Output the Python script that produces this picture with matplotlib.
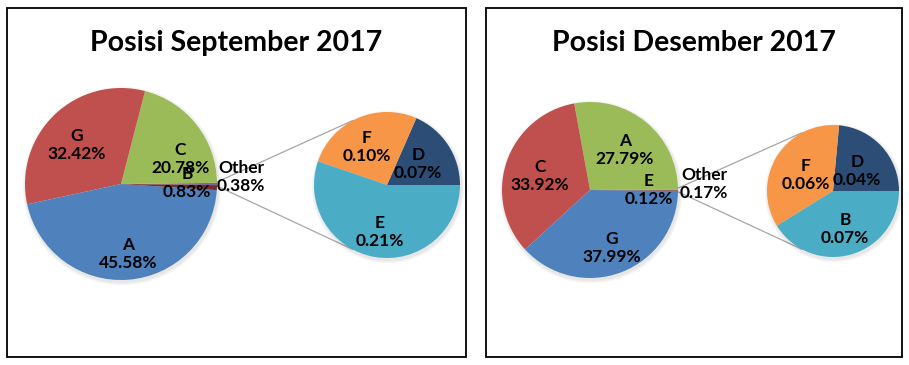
import matplotlib.pyplot as plt
from matplotlib.patches import Rectangle
import numpy as np

plt.rcParams['font.family'] = ['Lato', 'DejaVu Sans']

# data: main pie (the first slice is "Other", split out in the small pie)
sep_main_labels = ["Other", "C", "G", "A", "B"]
sep_main_values = [0.38, 20.78, 32.42, 45.58, 0.83]
sep_sub_labels = ["D", "F", "E"]
sep_sub_values = [0.07, 0.10, 0.21]

des_main_labels = ["Other", "A", "C", "G", "E"]
des_main_values = [0.17, 27.79, 33.92, 37.99, 0.12]
des_sub_labels = ["D", "F", "B"]
des_sub_values = [0.04, 0.06, 0.07]

titles = ["Posisi September 2017", "Posisi Desember 2017"]

BLUE = "#4f81bd"
RED = "#c0504d"
GREEN = "#9bbb59"
PURPLE = "#8064a2"
AQUA = "#4bacc6"
ORANGE = "#f79646"
NAVY = "#2c4d75"
DKRED = "#772c2a"

sep_main_colors = [PURPLE, GREEN, RED, BLUE, DKRED]
sep_sub_colors = [NAVY, ORANGE, AQUA]
des_main_colors = [PURPLE, GREEN, RED, BLUE, DKRED]
des_sub_colors = [NAVY, ORANGE, AQUA]

W, H = 909, 365
fig = plt.figure(figsize=(W / 100, H / 100), dpi=100)
ax = fig.add_axes([0, 0, 1, 1])


def py(y):
    # pixel row -> data y
    return H - y


def draw_panel(frame, title, main_vals, main_cols, main_c, main_r,
               sub_vals, sub_cols, sub_c, sub_r, label_pos):
    x0, y0, x1, y1 = frame
    ax.add_patch(Rectangle((x0, py(y1)), x1 - x0, y1 - y0, fill=False,
                           edgecolor="black", linewidth=1.3, zorder=1))
    ax.text((x0 + x1) / 2, py(43), title, ha="center", va="center",
            fontsize=20.5, fontweight="bold", color="#000000")

    # main pie: "Other" slice centred on 3 o'clock
    other_deg = main_vals[0] / sum(main_vals) * 360
    mc = (main_c[0], py(main_c[1]))
    for k in range(4):
        s = 1.0 + k * 0.8
        ax.add_patch(plt.Circle((mc[0] + 1, mc[1] - 2), main_r + s,
                                color="#000000", alpha=0.025, lw=0, zorder=1))
    ax.pie(main_vals, colors=main_cols, startangle=-other_deg / 2,
           counterclock=True, center=mc, radius=main_r,
           wedgeprops=dict(linewidth=0), frame=False)

    sc = (sub_c[0], py(sub_c[1]))
    for k in range(4):
        s = 1.0 + k * 0.8
        ax.add_patch(plt.Circle((sc[0] + 1, sc[1] - 2), sub_r + s,
                                color="#000000", alpha=0.025, lw=0, zorder=1))
    ax.pie(sub_vals, colors=sub_cols, startangle=0, counterclock=True,
           center=sc, radius=sub_r, wedgeprops=dict(linewidth=0), frame=False)

    # connector lines from the edges of the "Other" slice to the small pie
    a = np.deg2rad(max(other_deg / 2, 1.2))
    for sgn, ang in [(1, 118), (-1, 242)]:
        p0 = (mc[0] + main_r * np.cos(a), mc[1] + sgn * main_r * np.sin(a))
        t = np.deg2rad(ang)
        p1 = (sc[0] + sub_r * np.cos(t), sc[1] + sub_r * np.sin(t))
        ax.plot([p0[0], p1[0]], [p0[1], p1[1]], color="#a6a6a6",
                linewidth=0.9, zorder=0.5)

    for (x, y), txt in label_pos:
        ax.text(x, py(y), txt, ha="center", va="center", fontsize=12.5,
                fontweight="bold", color="#000000", linespacing=1.2,
                zorder=5)


def lab(names, vals):
    return [f"{n}\n{v:.2f}%" for n, v in zip(names, vals)]


sep_txt = lab(sep_main_labels, sep_main_values) + lab(sep_sub_labels, sep_sub_values)
des_txt = lab(des_main_labels, des_main_values) + lab(des_sub_labels, des_sub_values)

sep_pos = [(241, 177), (180, 159), (77, 145), (128, 254), (187, 183),
           (418, 164), (367, 147), (380, 232)]
des_pos = [(704, 184), (625, 150), (540, 176), (612, 248), (649, 190),
           (857, 171), (806, 175), (845, 229)]

draw_panel((7, 8, 466, 357), titles[0], sep_main_values, sep_main_colors,
           (121, 184), 96, sep_sub_values, sep_sub_colors, (387, 185), 73,
           list(zip(sep_pos, sep_txt)))
draw_panel((486, 8, 902, 357), titles[1], des_main_values, des_main_colors,
           (590, 190), 88, des_sub_values, des_sub_colors, (833, 191), 66,
           list(zip(des_pos, des_txt)))

ax.set_xlim(0, W)
ax.set_ylim(0, H)
ax.set_aspect("equal")
ax.axis("off")

fig.savefig("out.png", dpi=100, facecolor="white")
